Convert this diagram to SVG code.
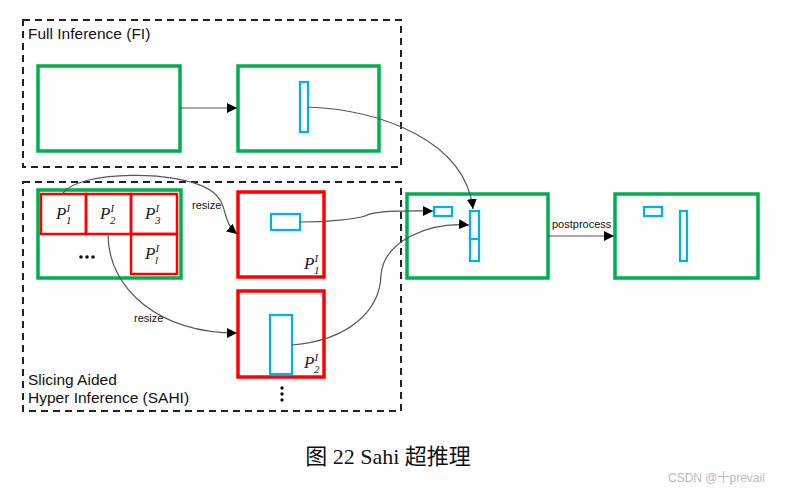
<svg xmlns="http://www.w3.org/2000/svg" width="785" height="491" viewBox="0 0 785 491">
<style>
.dash{fill:none;stroke:#222;stroke-width:2;stroke-dasharray:7,5}
.g{fill:#fff;stroke:#00b050;stroke-width:3.5}
.r{fill:#fff;stroke:#ff0000;stroke-width:3.5}
.rc{fill:none;stroke:#ff0000;stroke-width:2.5}
.b{fill:#fff;stroke:#00b0f0;stroke-width:2.2}
.c{fill:none;stroke:#555;stroke-width:1.2}
.t{font-family:"Liberation Sans",Arial,sans-serif;fill:#111}
.p{font-family:"Liberation Serif","Times New Roman",serif;font-style:italic;fill:#222;font-size:17px}
.ps{font-size:11px;font-style:italic}
</style>
<defs>
<marker id="ah" viewBox="0 0 10 10" refX="10" refY="5" markerWidth="10" markerHeight="10" markerUnits="userSpaceOnUse" orient="auto">
<path d="M0,0 L10,5 L0,10 z" fill="#000"/>
</marker>
</defs>
<rect width="785" height="491" fill="#fff"/>

<g id="fi-group">
<rect class="dash" x="23" y="20" width="378" height="147"/>
<text class="t" x="28" y="39" font-size="15.5">Full Inference (FI)</text>
</g>
<g id="sahi-group">
<rect class="dash" x="23" y="182" width="378" height="229"/>
<text class="t" x="28" y="385" font-size="15.5">Slicing Aided</text>
<text class="t" x="28" y="403" font-size="15.5">Hyper Inference (SAHI)</text>
</g>

<g id="fi-input"><rect class="g" x="38" y="66" width="142" height="85"/></g>
<g id="fi-output"><rect class="g" x="238" y="66" width="141" height="85"/><rect class="b" x="300" y="82" width="8" height="50"/></g>

<g id="sliced-image">
<rect class="g" x="38" y="190" width="143" height="88"/>
<rect class="rc" x="41" y="194" width="45" height="40"/>
<rect class="rc" x="86" y="194" width="45" height="40"/>
<rect class="rc" x="131" y="194" width="46" height="40"/>
<rect class="rc" x="131" y="234" width="46" height="40"/>
<text class="p" x="56" y="219">P<tspan class="ps" dy="-7">I</tspan><tspan class="ps" dx="-4" dy="12">1</tspan></text>
<text class="p" x="100" y="219">P<tspan class="ps" dy="-7">I</tspan><tspan class="ps" dx="-4" dy="12">2</tspan></text>
<text class="p" x="145" y="219">P<tspan class="ps" dy="-7">I</tspan><tspan class="ps" dx="-4" dy="12">3</tspan></text>
<text class="p" x="145" y="259">P<tspan class="ps" dy="-7">I</tspan><tspan class="ps" dx="-4" dy="12">l</tspan></text>
<circle cx="81" cy="257" r="1.8" fill="#111"/>
<circle cx="87" cy="257" r="1.8" fill="#111"/>
<circle cx="93" cy="257" r="1.8" fill="#111"/>
</g>

<g id="patch1">
<rect class="r" x="238" y="192" width="86" height="85"/>
<rect class="b" x="271" y="214" width="29" height="16"/>
<text class="p" x="304" y="269">P<tspan class="ps" dy="-7">I</tspan><tspan class="ps" dx="-4" dy="12">1</tspan></text>
</g>
<g id="patch2">
<rect class="r" x="238" y="291" width="86" height="86"/>
<rect class="b" x="270" y="315" width="22" height="59"/>
<text class="p" x="304" y="368">P<tspan class="ps" dy="-7">I</tspan><tspan class="ps" dx="-4" dy="12">2</tspan></text>
<circle cx="282" cy="388" r="1.7" fill="#111"/>
<circle cx="282" cy="394" r="1.7" fill="#111"/>
<circle cx="282" cy="400" r="1.7" fill="#111"/>
</g>

<g id="merged">
<rect class="g" x="407" y="194" width="141" height="84"/>
<rect class="b" x="434" y="207" width="18" height="9"/>
<rect class="b" x="470" y="211" width="9" height="28"/>
<rect class="b" x="470" y="239" width="9" height="22"/>
</g>
<g id="final">
<rect class="g" x="615" y="194" width="143" height="84"/>
<rect class="b" x="644" y="207" width="18" height="9"/>
<rect class="b" x="680" y="211" width="7" height="50"/>
</g>

<g id="connectors">
<path class="c" d="M180,108 L237,108" marker-end="url(#ah)"/>
<path class="c" d="M308,107 C380,110 465,140 473,209" marker-end="url(#ah)"/>
<path class="c" d="M63,193 C80,170 180,170 210,190 C230,203 220,220 237,234" marker-end="url(#ah)"/>
<path class="c" d="M108,234 C108,290 160,333 237,333" marker-end="url(#ah)"/>
<path class="c" d="M300,222 C330,222 355,219 365,216 C375,210 410,211 433,211" marker-end="url(#ah)"/>
<path class="c" d="M292,345 C350,340 380,310 381,275 C384,240 430,222 469,225" marker-end="url(#ah)"/>
<path class="c" d="M548,236 L614,236" marker-end="url(#ah)"/>
<text class="t" x="552" y="228" font-size="11">postprocess</text>
<text class="t" x="192" y="209" font-size="11">resize</text>
<text class="t" x="134" y="322" font-size="11">resize</text>
</g>

<text x="388" y="464" text-anchor="middle" font-family="'Liberation Serif','Noto Sans CJK SC',serif" font-size="22" fill="#111">图 22 Sahi 超推理</text>
<text x="668" y="482" font-family="'Liberation Sans','Noto Sans CJK SC',sans-serif" font-size="12" fill="#bbb">CSDN @十prevail</text>
</svg>
